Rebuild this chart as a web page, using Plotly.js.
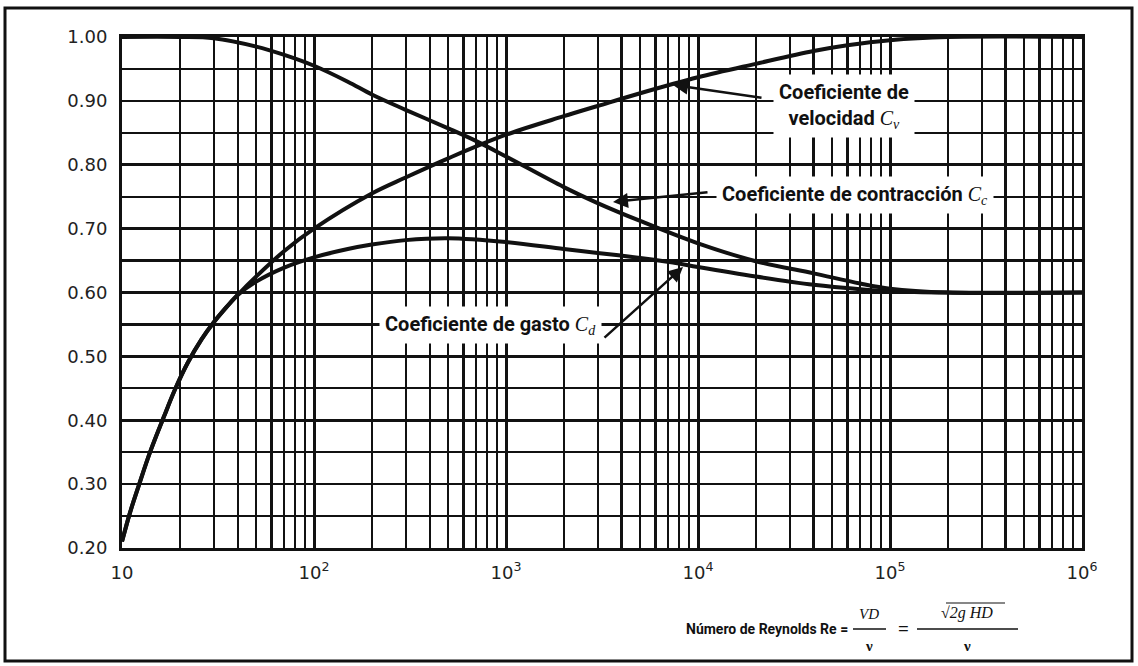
<!DOCTYPE html>
<html>
<head>
<meta charset="utf-8">
<script src="https://cdn.plot.ly/plotly-3.0.1.min.js"></script>
<style>html,body{margin:0;padding:0;background:#fff;}#chart{width:1138px;height:666px;}</style>
</head>
<body>
<div id="chart"></div>
<script>
// ---- Data ----
const reCv = [10, 11, 12.3, 14, 16.5, 19, 22, 26, 30, 35, 40, 50, 70, 100, 200, 300, 500, 1000, 2000, 3000, 5000, 10000, 20000, 40000, 60000, 100000, 200000, 1000000];
const cv   = [0.21, 0.255, 0.30, 0.35, 0.405, 0.45, 0.49, 0.527, 0.553, 0.577, 0.596, 0.625, 0.665, 0.70, 0.755, 0.78, 0.81, 0.847, 0.876, 0.892, 0.912, 0.937, 0.958, 0.978, 0.987, 0.995, 1.0, 1.0];

const reCd = [10, 11, 12.3, 14, 16.5, 19, 22, 26, 30, 35, 40, 50, 70, 100, 150, 200, 300, 500, 1000, 2000, 3000, 5000, 7400, 10000, 20000, 40000, 70000, 100000, 200000, 1000000];
const cd   = [0.21, 0.255, 0.30, 0.35, 0.405, 0.45, 0.49, 0.527, 0.553, 0.577, 0.596, 0.617, 0.639, 0.655, 0.668, 0.675, 0.682, 0.685, 0.679, 0.668, 0.662, 0.654, 0.647, 0.640, 0.625, 0.612, 0.605, 0.602, 0.60, 0.60];

const reCc = [10, 20, 30, 50, 70, 100, 150, 200, 300, 500, 700, 1000, 2000, 3000, 5000, 10000, 20000, 40000, 70000, 100000, 200000, 1000000];
const cc   = [1.0, 1.0, 0.998, 0.985, 0.972, 0.955, 0.93, 0.91, 0.886, 0.857, 0.837, 0.813, 0.765, 0.74, 0.712, 0.677, 0.649, 0.63, 0.614, 0.606, 0.60, 0.60];

const xTickVals = [10, 100, 1000, 10000, 100000, 1000000];
const xTickText = ['10', '10<sup>2</sup>', '10<sup>3</sup>', '10<sup>4</sup>', '10<sup>5</sup>', '10<sup>6</sup>'];
const yTickVals = [0.2, 0.3, 0.4, 0.5, 0.6, 0.7, 0.8, 0.9, 1.0];
const yTickText = ['0.20', '0.30', '0.40', '0.50', '0.60', '0.70', '0.80', '0.90', '1.00'];

const labelCv = 'Coeficiente de<br>velocidad ';
const labelCc = 'Coeficiente de contracción ';
const labelCd = 'Coeficiente de gasto ';
const axisLabel = 'Número de Reynolds Re =';

// ---- Layout helpers (pixel -> paper) ----
const L = 122, R = 56, T = 37, B = 118, W = 1138, H = 666;
const pw = W - L - R, ph = H - T - B;
const px = p => (p - L) / pw;
const py = p => (H - B - p) / ph;
const lx = p => 1 + (p - L) / 192;            // pixel -> log10(Re) for annotations
const vy = p => 0.2 + (H - B - p) / 638.75;   // pixel -> coefficient

// minor grid positions (2..9 per decade)
const minorVals = [];
for (let d = 1; d <= 5; d++) for (let m = 2; m <= 9; m++) minorVals.push(m * Math.pow(10, d));

const lineStyle = {color: '#111', width: 4, shape: 'spline', smoothing: 1};
const traces = [
  {x: reCv, y: cv, mode: 'lines', line: lineStyle, name: 'Cv', hoverinfo: 'skip'},
  {x: reCd, y: cd, mode: 'lines', line: lineStyle, name: 'Cd', hoverinfo: 'skip'},
  {x: reCc, y: cc, mode: 'lines', line: lineStyle, name: 'Cc', hoverinfo: 'skip'}
];

const sym = (c, s) => '<span style="font-family:\'Liberation Serif\',serif;font-weight:normal"><i>' + c + '</i><sub><i>' + s + '</i></sub></span>';
const annFont = {family: "Roboto, 'Liberation Sans', sans-serif", size: 20, color: '#111'};

const annotations = [
  // text labels
  {xref: 'x', yref: 'y', x: lx(844), y: vy(106),
   text: '<b>' + labelCv + '</b>' + sym('C', 'v'), showarrow: false, font: annFont, bgcolor: '#fff', borderpad: 5, align: 'center'},
  {xref: 'x', yref: 'y', x: lx(855), y: vy(195),
   text: '<b>' + labelCc + '</b>' + sym('C', 'c'), showarrow: false, font: annFont, bgcolor: '#fff', borderpad: 5},
  {xref: 'x', yref: 'y', x: lx(490), y: vy(325),
   text: '<b>' + labelCd + '</b>' + sym('C', 'd'), showarrow: false, font: annFont, bgcolor: '#fff', borderpad: 5},
  // arrows (head at curve, tail offset in px)
  {xref: 'x', yref: 'y', x: lx(673), y: vy(85), text: '', showarrow: true,
   ax: 90, ay: 13, arrowhead: 2, arrowsize: 1.2, arrowwidth: 2.5, arrowcolor: '#111'},
  {xref: 'x', yref: 'y', x: lx(613), y: vy(202), text: '', showarrow: true,
   ax: 96, ay: -10, arrowhead: 2, arrowsize: 1.2, arrowwidth: 2.5, arrowcolor: '#111'},
  {xref: 'x', yref: 'y', x: lx(683), y: vy(267), text: '', showarrow: true,
   ax: -80, ay: 72, arrowhead: 2, arrowsize: 1.2, arrowwidth: 2.5, arrowcolor: '#111'},
  // axis title pieces
  {xref: 'paper', yref: 'paper', x: px(850), y: py(629), xanchor: 'right', yanchor: 'middle', showarrow: false,
   text: '<b>' + axisLabel + '</b>', font: {family: annFont.family, size: 14, color: '#111'}},
  {xref: 'paper', yref: 'paper', x: px(869), y: py(614), xanchor: 'center', yanchor: 'middle', showarrow: false,
   text: '<i>VD</i>', font: {family: "'Liberation Serif',serif", size: 15, color: '#111'}},
  {xref: 'paper', yref: 'paper', x: px(869), y: py(646), xanchor: 'center', yanchor: 'middle', showarrow: false,
   text: '<b>ν</b>', font: {family: "'Liberation Serif',serif", size: 15, color: '#111'}},
  {xref: 'paper', yref: 'paper', x: px(903), y: py(628), xanchor: 'center', yanchor: 'middle', showarrow: false,
   text: '<b>=</b>', font: {family: "'Liberation Serif',serif", size: 19, color: '#111'}},
  {xref: 'paper', yref: 'paper', x: px(967), y: py(613), xanchor: 'center', yanchor: 'middle', showarrow: false,
   text: '√<i>2g HD</i>', font: {family: "'Liberation Serif',serif", size: 16, color: '#111'}},
  {xref: 'paper', yref: 'paper', x: px(967), y: py(646), xanchor: 'center', yanchor: 'middle', showarrow: false,
   text: '<b>ν</b>', font: {family: "'Liberation Serif',serif", size: 15, color: '#111'}}
];

const shapes = [
  // outer frame
  {type: 'rect', xref: 'paper', yref: 'paper', x0: px(5), x1: px(1132), y0: py(661), y1: py(8),
   line: {color: '#111', width: 3}, layer: 'below'},
  // fraction bars and radical overline
  {type: 'line', xref: 'paper', yref: 'paper', x0: px(853), x1: px(886), y0: py(629), y1: py(629), line: {color: '#111', width: 1.5}},
  {type: 'line', xref: 'paper', yref: 'paper', x0: px(917), x1: px(1018), y0: py(629), y1: py(629), line: {color: '#111', width: 1.5}},
  {type: 'line', xref: 'paper', yref: 'paper', x0: px(946), x1: px(1005), y0: py(603), y1: py(603), line: {color: '#111', width: 1.2}}
];

const tickFont = {family: "'DejaVu Sans', sans-serif", size: 18, color: '#222'};

const layout = {
  width: W, height: H,
  margin: {l: L, r: R, t: T, b: B, pad: 0},
  paper_bgcolor: '#fff', plot_bgcolor: '#fff',
  showlegend: false,
  xaxis: {
    type: 'log', range: [1, 6], tickmode: 'array', tickvals: xTickVals, ticktext: xTickText,
    showgrid: true, gridcolor: '#111', gridwidth: 3,
    minor: {tickmode: 'array', tickvals: minorVals, showgrid: true, gridcolor: '#111', gridwidth: 2.2, ticks: ''},
    showline: true, linecolor: '#111', linewidth: 3, mirror: true, ticks: '',
    tickfont: tickFont, ticklabelstandoff: 6, zeroline: false, fixedrange: true
  },
  yaxis: {
    range: [0.2, 1.0], tickmode: 'array', tickvals: yTickVals, ticktext: yTickText,
    showgrid: true, gridcolor: '#111', gridwidth: 2.6,
    minor: {dtick: 0.05, showgrid: true, gridcolor: '#111', gridwidth: 2.2, ticks: ''},
    showline: true, linecolor: '#111', linewidth: 3, mirror: true, ticks: '',
    tickfont: tickFont, ticklabelstandoff: 8, zeroline: false, fixedrange: true
  },
  annotations: annotations,
  shapes: shapes
};

Plotly.newPlot('chart', traces, layout, {staticPlot: true, displayModeBar: false});
</script>
</body>
</html>
